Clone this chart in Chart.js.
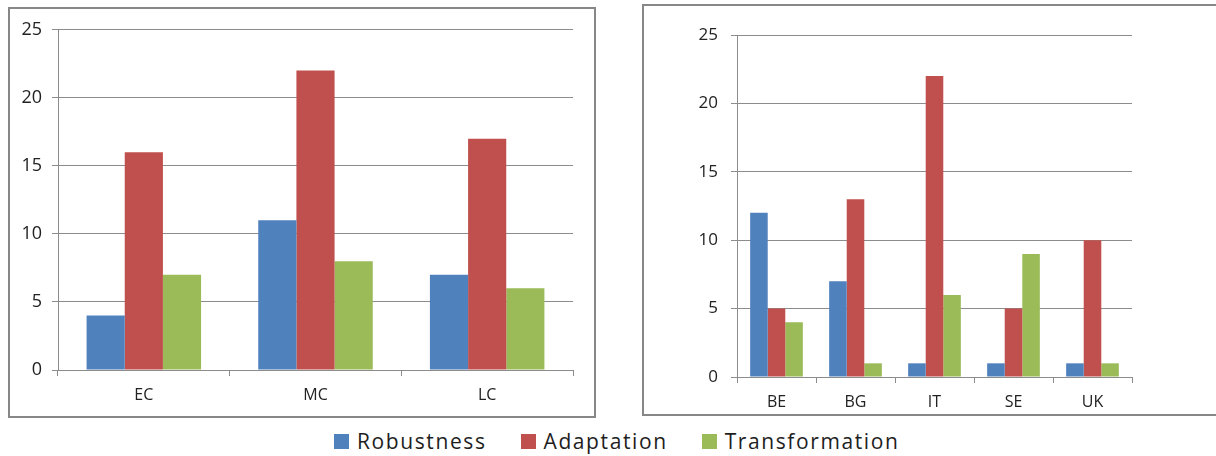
<!DOCTYPE html>
<html>
<head>
<meta charset="utf-8">
<script src="https://cdn.jsdelivr.net/npm/chart.js@4/dist/chart.umd.min.js"></script>
<style>
  html, body { margin: 0; padding: 0; background: #fff; }
  body { width: 1216px; height: 456px; position: relative; overflow: hidden; font-family: "Open Sans", sans-serif; }
  .frame { position: absolute; box-sizing: border-box; border: 2px solid #878787; background: #fff; }
  #frameStage { left: 8px; top: 7px; width: 588px; height: 411px; }
  #frameCountry { left: 642px; top: 4px; width: 590px; height: 412px; }
  canvas { display: block; }
  #legend { position: absolute; left: 334px; top: 428px; height: 26px; display: flex; align-items: center; }
  .item { display: flex; align-items: center; margin-right: 34px; }
  .swatch { width: 15px; height: 15px; margin-right: 8px; }
  .name { font-size: 21px; letter-spacing: 1.6px; color: #1e1e1e; line-height: 26px; }
</style>
</head>
<body>
<div class="frame" id="frameStage"><canvas id="stageChart" width="584" height="407"></canvas></div>
<div class="frame" id="frameCountry"><canvas id="countryChart" width="586" height="408"></canvas></div>
<div id="legend"></div>
<script>
// Categories
const stageLabels = ['EC', 'MC', 'LC'];
const countryLabels = ['BE', 'BG', 'IT', 'SE', 'UK'];
const seriesNames = ['Robustness', 'Adaptation', 'Transformation'];
const seriesColors = ['#4F81BD', '#C0504D', '#9BBB59'];

// Counts by stage
const stageRobustness = [4, 11, 7];
const stageAdaptation = [16, 22, 17];
const stageTransformation = [7, 8, 6];

// Counts by country
const countryRobustness = [12, 7, 1, 1, 1];
const countryAdaptation = [5, 13, 22, 5, 10];
const countryTransformation = [4, 1, 6, 9, 1];

// Value axis
const yMin = 0;
const yMax = 25;
const yStep = 5;

const gridGray = '#8c8c8c';
const textColor = '#222222';

function makeDatasets(values) {
  return values.map((v, i) => ({
    label: seriesNames[i],
    data: v,
    backgroundColor: seriesColors[i],
    borderWidth: 0,
    categoryPercentage: 0.667,
    barPercentage: 1.0
  }));
}

function makeOptions(cfg) {
  return {
    responsive: false,
    animation: false,
    events: [],
    layout: { padding: { top: cfg.padTop, right: cfg.padRight, left: 0, bottom: 0 } },
    plugins: { legend: { display: false }, tooltip: { enabled: false } },
    scales: {
      x: {
        offset: true,
        grid: { offset: true, drawOnChartArea: false, drawTicks: true, tickLength: 6, color: gridGray, lineWidth: 1 },
        border: { display: true, color: gridGray, width: 1 },
        ticks: { color: textColor, font: { family: 'Open Sans', size: cfg.xFont }, padding: cfg.xPad, maxRotation: 0 },
        afterFit: (s) => { s.height = cfg.xHeight; }
      },
      y: {
        min: yMin,
        max: yMax,
        ticks: { stepSize: yStep, color: textColor, font: { family: 'Open Sans', size: cfg.yFont }, padding: cfg.yPad },
        grid: { color: gridGray, lineWidth: 1, drawTicks: true, tickLength: 6 },
        border: { display: true, color: gridGray, width: 1 },
        afterFit: (s) => { s.width = cfg.yWidth; }
      }
    }
  };
}

new Chart(document.getElementById('stageChart'), {
  type: 'bar',
  data: { labels: stageLabels, datasets: makeDatasets([stageRobustness, stageAdaptation, stageTransformation]) },
  options: makeOptions({ padTop: 20, padRight: 21, xFont: 16, xPad: 10, xHeight: 46, yFont: 18, yPad: 10, yWidth: 48 })
});

new Chart(document.getElementById('countryChart'), {
  type: 'bar',
  data: { labels: countryLabels, datasets: makeDatasets([countryRobustness, countryAdaptation, countryTransformation]) },
  options: makeOptions({ padTop: 29, padRight: 98, xFont: 16, xPad: 10, xHeight: 37, yFont: 17, yPad: 13, yWidth: 93 })
});

// Shared legend under both charts
const legend = document.getElementById('legend');
seriesNames.forEach((name, i) => {
  const item = document.createElement('div');
  item.className = 'item';
  const sw = document.createElement('div');
  sw.className = 'swatch';
  sw.style.background = seriesColors[i];
  const tx = document.createElement('span');
  tx.className = 'name';
  tx.textContent = name;
  item.appendChild(sw);
  item.appendChild(tx);
  legend.appendChild(item);
});
</script>
</body>
</html>
